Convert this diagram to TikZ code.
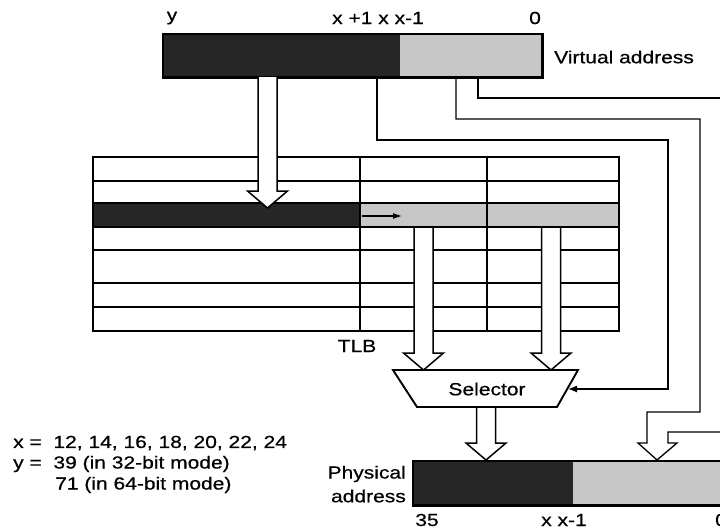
\documentclass[tikz,border=0pt]{standalone}
\usepackage{fontspec}
\setmainfont{Liberation Sans}[FakeStretch=1.2,FakeBold=0.6]
\usetikzlibrary{arrows.meta}
\definecolor{darkfill}{gray}{0.15}
\definecolor{lightfill}{gray}{0.78}
\tikzset{
  lbl/.style={inner sep=0pt, font=\fontsize{17.5}{20}\selectfont},
  frame/.style={draw=black, line width=2.4pt},
  grid/.style={draw=black, line width=1.6pt},
  wire/.style={draw=black, line width=1.3pt},
  hollow/.style={draw=black, line width=1.5pt, fill=white, line join=miter},
  darkbox/.style={fill=darkfill, draw=none, inner sep=0pt, anchor=north west},
  lightbox/.style={fill=lightfill, draw=none, inner sep=0pt, anchor=north west}
}
% hollow down arrow: x centre, y start, y tip
\newcommand\hollowarr[3]{%
  \draw[hollow] (#1-9.5,#2) -- (#1-9.5,#3-17) -- (#1-20,#3-17) -- (#1,#3)
     -- (#1+20,#3-17) -- (#1+9.5,#3-17) -- (#1+9.5,#2);}
\begin{document}
\begin{tikzpicture}[x=1pt,y=-1pt]
\useasboundingbox (0,0) rectangle (720,530);

% ---------- Virtual address ----------
\node[darkbox, minimum width=237pt, minimum height=43pt] (vaH) at (163,34) {};
\node[lightbox, minimum width=142pt, minimum height=43pt] (vaL) at (400,34) {};
\draw[frame] (vaH.north west) rectangle (vaL.south east);
\node[lbl] (ly) at (172,18) {y};
\node[lbl] (lx) at (378,18) {x +1 x x-1};
\node[lbl] (l0) at (535,18) {0};
\node[lbl, anchor=west] (vlab) at (554,57) {Virtual address};

% ---------- TLB ----------
\fill[darkfill] (93,203) rectangle (360,227);
\fill[lightfill] (360,203) rectangle (619,227);
\foreach \yy in {181,203,227,250,283,307} \draw[grid] (93,\yy) -- (619,\yy);
\draw[grid] (360,157) -- (360,331);
\draw[grid] (487,157) -- (487,331);
\draw[frame] (93,157) rectangle (619,331);
\node[lbl] (tlb) at (357,346) {TLB};
\coordinate (rowarrS) at (362,216);
\coordinate (rowarrE) at (402,216);
\draw[wire, -{Latex[length=9pt,width=6pt]}] (rowarrS) -- (rowarrE);

% ---------- Selector ----------
\coordinate (s1) at (393,370);
\coordinate (s2) at (578,370);
\coordinate (s3) at (557,407);
\coordinate (s4) at (417,407);
\draw[frame, line width=1.9pt, fill=white, line join=miter] (s1) -- (s2) -- (s3) -- (s4) -- cycle;
\node[lbl] (sel) at (487,389) {Selector};
\coordinate (selin) at (568,389);

% ---------- Physical address ----------
\node[darkbox, minimum width=160pt, minimum height=44pt] (paH) at (413,461) {};
\node[lightbox, minimum width=160pt, minimum height=44pt] (paL) at (573,461) {};
\draw[frame] (paH.north west) rectangle (paL.south east);
\node[lbl, anchor=east] (phys) at (406,474) {Physical};
\node[lbl, anchor=east] (addr) at (406,496) {address};
\node[lbl] (l35) at (427,520) {35};
\node[lbl] (lxx) at (564,520) {x x-1};
\node[lbl, anchor=west] (l0b) at (715,520) {0};

% ---------- legend ----------
\node[lbl, anchor=west] (leg1) at (13,443) {x =\ \ 12, 14, 16, 18, 20, 22, 24};
\node[lbl, anchor=west] (leg2) at (13,464) {y =\ \ 39 (in 32-bit mode)};
\node[lbl, anchor=west] (leg3) at (55,485) {71 (in 64-bit mode)};

% ---------- wires ----------
\coordinate (tapSel) at (377,77);
\coordinate (tapLo) at (456,77);
\coordinate (tapHi) at (478,77);
\draw[wire, -{Latex[length=9pt,width=7pt]}] (tapSel) |- (668,140) |- (selin);
\draw[wire] (tapLo) |- (700,119) |- (647,412) -- (647,443) -- (638,443)
   -- (657,460) -- (677,443) -- (668,443) -- (668,432) -- (730,432);
\draw[wire] (tapHi) |- (730,98);

% ---------- hollow arrows ----------
\hollowarr{267.5}{77}{208}
\hollowarr{423.5}{228}{370}
\hollowarr{551}{228}{370}
\hollowarr{486}{408}{460}
\end{tikzpicture}
\end{document}
